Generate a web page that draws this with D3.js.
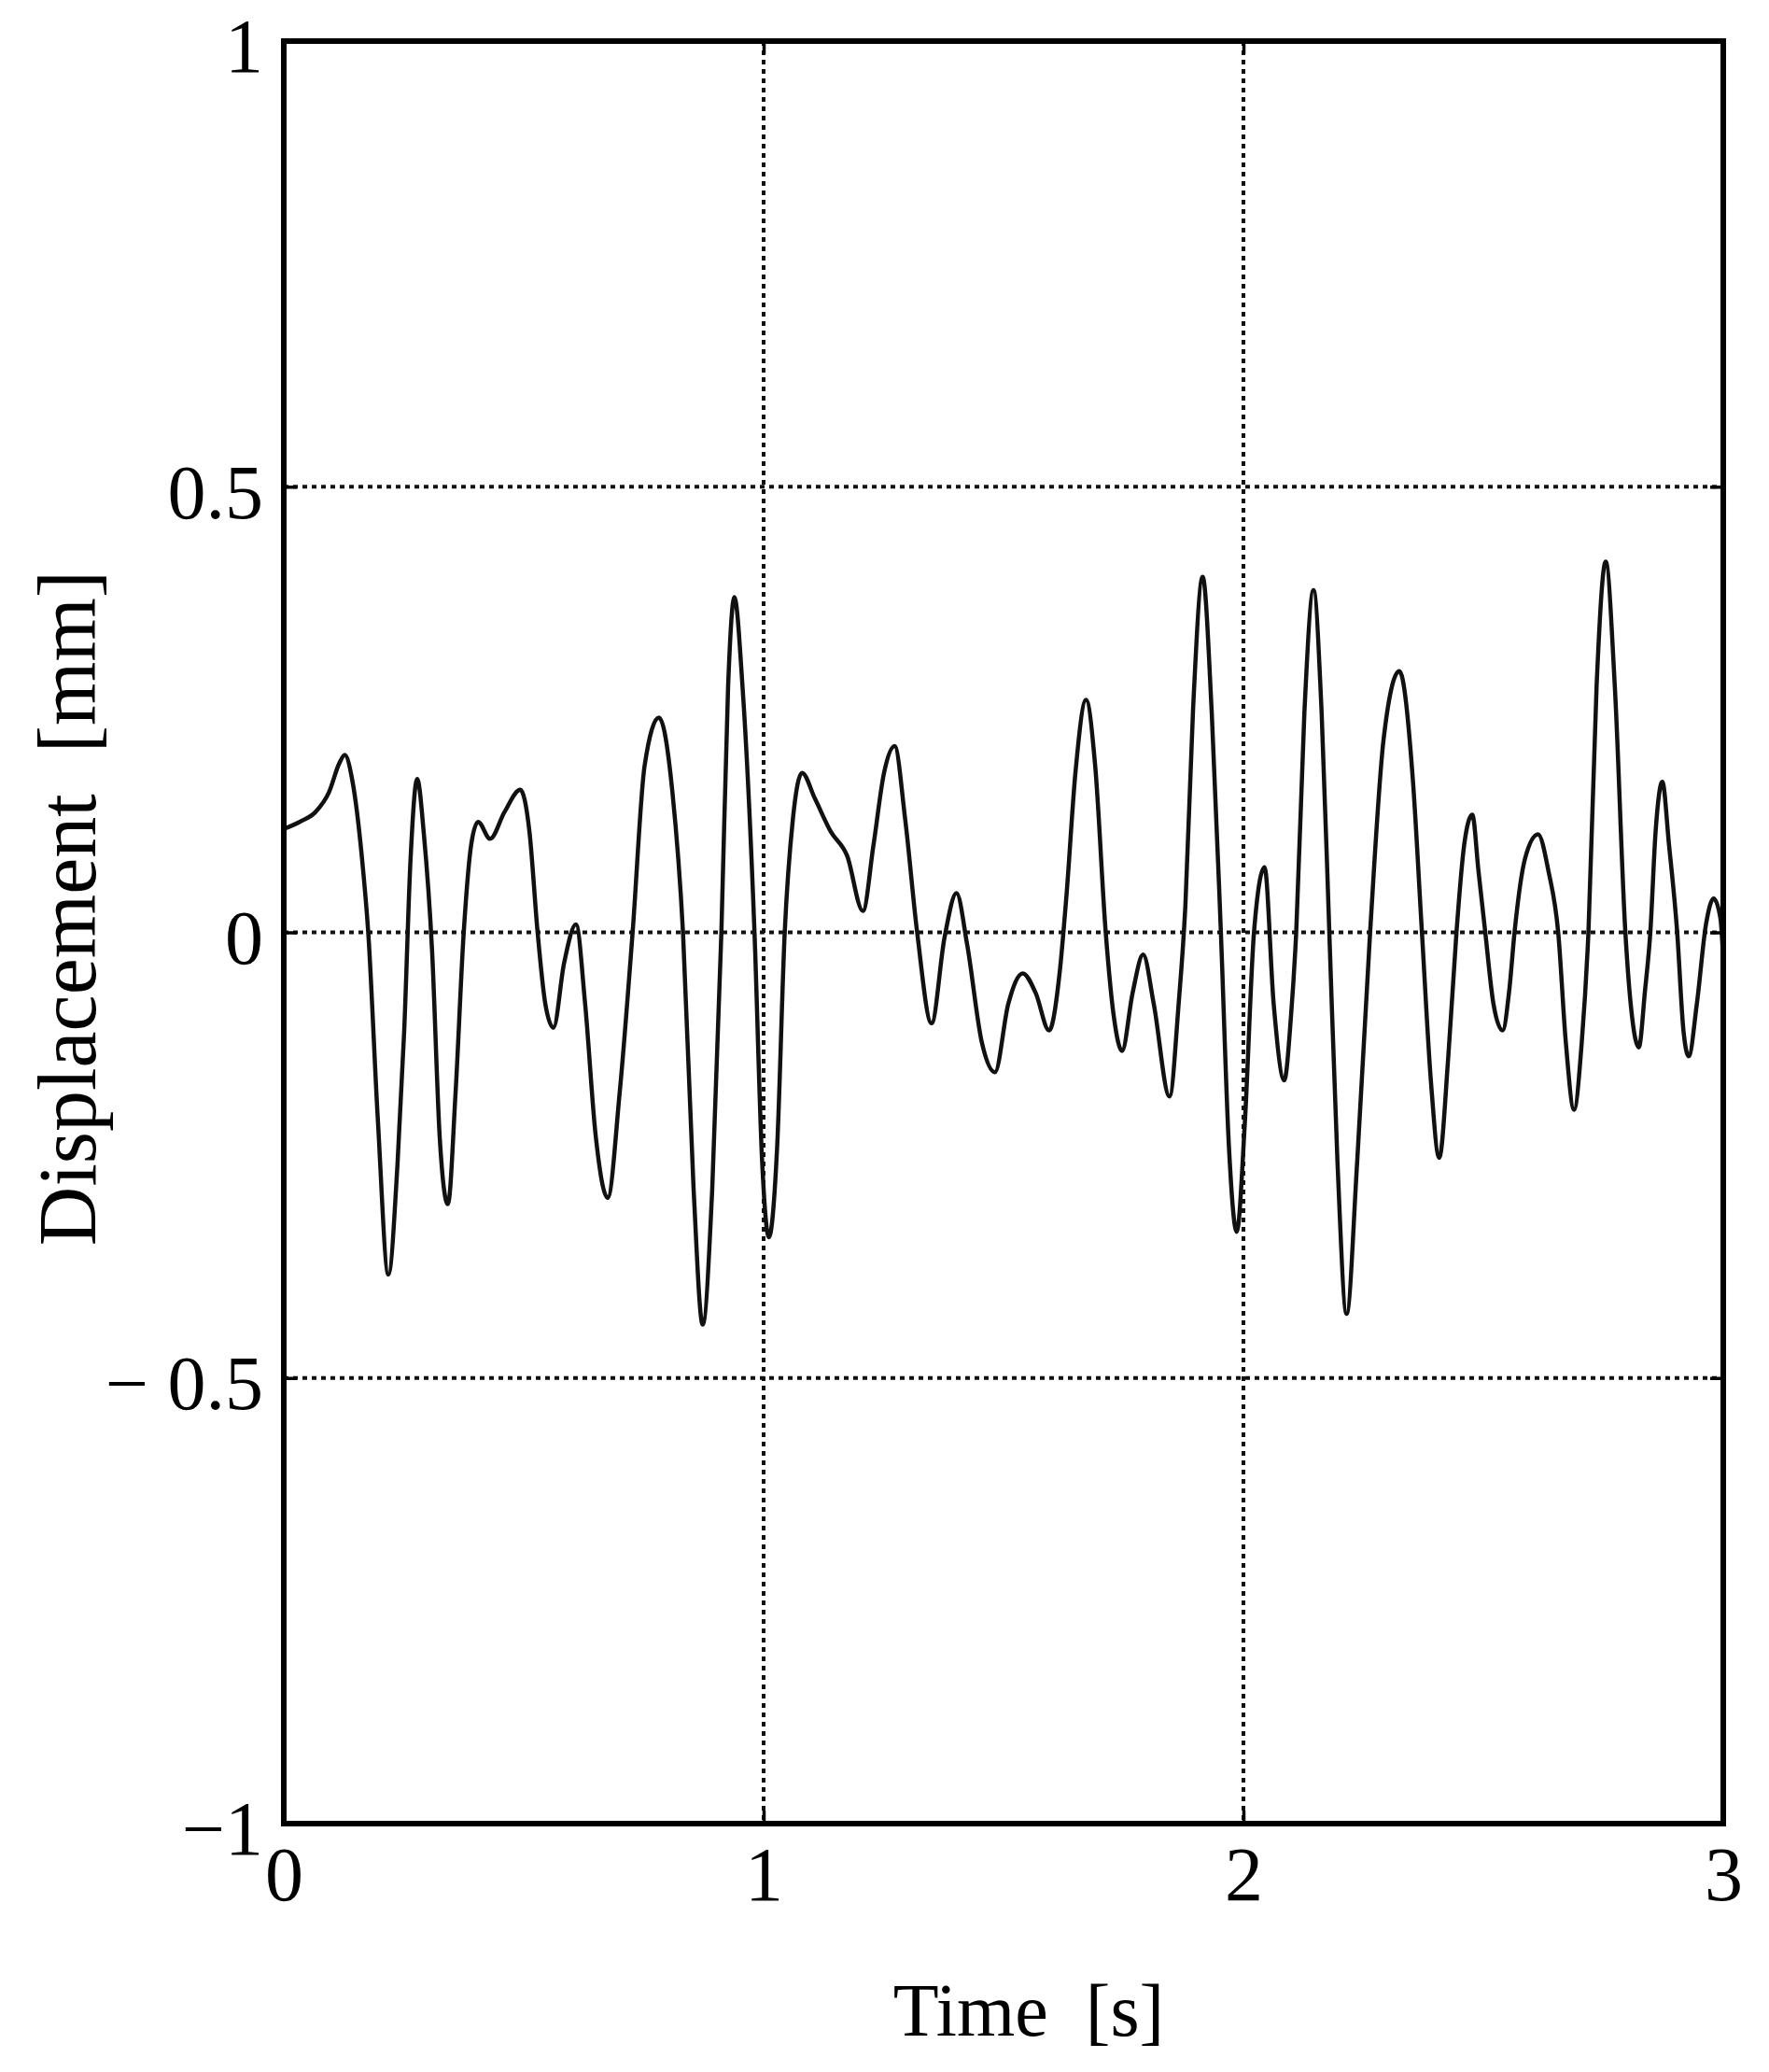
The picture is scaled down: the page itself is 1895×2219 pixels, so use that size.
<!DOCTYPE html>
<html>
<head>
<meta charset="utf-8">
<script src="https://cdn.jsdelivr.net/npm/d3@7"></script>
<style>
  html, body { margin: 0; padding: 0; background: #fff; }
  text { font-family: "Liberation Serif", "Times New Roman", serif; fill: #000; }
</style>
</head>
<body>
<div id="chart"></div>
<script>
// time [s] and displacement [mm]
const time = [
  0, 0.033, 0.066, 0.094, 0.116, 0.127, 0.143, 0.163, 0.176, 0.196, 0.218, 0.237, 0.251, 0.264,
  0.278, 0.292, 0.309, 0.325, 0.342, 0.358, 0.375, 0.391, 0.405, 0.43, 0.46, 0.493, 0.512, 0.529,
  0.545, 0.562, 0.584, 0.609, 0.628, 0.65, 0.675, 0.7, 0.727, 0.752, 0.782, 0.81, 0.832, 0.854,
  0.873, 0.893, 0.912, 0.926, 0.939, 0.956, 0.981, 0.997, 1.011, 1.028, 1.044, 1.061, 1.08, 1.107,
  1.14, 1.174, 1.207, 1.229, 1.251, 1.273, 1.295, 1.32, 1.35, 1.377, 1.402, 1.424, 1.455, 1.482,
  1.51, 1.54, 1.567, 1.595, 1.617, 1.631, 1.65, 1.672, 1.691, 1.713, 1.73, 1.747, 1.769, 1.791,
  1.813, 1.846, 1.865, 1.879, 1.895, 1.915, 1.934, 1.953, 1.97, 1.986, 2.003, 2.022, 2.044, 2.063,
  2.085, 2.099, 2.11, 2.127, 2.146, 2.163, 2.179, 2.196, 2.215, 2.237, 2.264, 2.292, 2.325, 2.353,
  2.372, 2.391, 2.408, 2.427, 2.444, 2.46, 2.477, 2.49, 2.504, 2.521, 2.54, 2.554, 2.565, 2.587,
  2.614, 2.636, 2.656, 2.672, 2.689, 2.705, 2.719, 2.736, 2.755, 2.774, 2.796, 2.81, 2.824, 2.837,
  2.848, 2.859, 2.873, 2.887, 2.904, 2.917, 2.928, 2.945, 2.964, 2.98, 2.994, 3.0
];
const displacement = [
  0.116, 0.124, 0.135, 0.157, 0.19, 0.199, 0.17, 0.083, 0, -0.21, -0.384, -0.26, -0.11, 0.08,
  0.172, 0.11, -0.02, -0.23, -0.305, -0.18, 0, 0.1, 0.124, 0.105, 0.135, 0.16, 0.113, 0,
  -0.08, -0.107, -0.035, 0.009, -0.08, -0.228, -0.298, -0.18, 0, 0.187, 0.241, 0.157, 0, -0.287,
  -0.44, -0.287, 0, 0.276, 0.376, 0.276, 0, -0.258, -0.342, -0.243, 0, 0.127, 0.179, 0.15,
  0.113, 0.086, 0.024, 0.098, 0.179, 0.209, 0.127, 0, -0.102, -0.006, 0.044, -0.013, -0.124, -0.157,
  -0.08, -0.046, -0.068, -0.11, -0.045, 0.04, 0.18, 0.261, 0.187, 0, -0.095, -0.133, -0.068, -0.025,
  -0.08, -0.184, -0.08, 0.03, 0.25, 0.399, 0.246, 0, -0.243, -0.336, -0.213, 0, 0.073, -0.08,
  -0.166, -0.095, 0, 0.246, 0.384, 0.246, 0, -0.258, -0.428, -0.258, 0, 0.216, 0.293, 0.172,
  0, -0.169, -0.253, -0.139, 0, 0.098, 0.132, 0.068, 0, -0.08, -0.11, -0.065, 0, 0.083,
  0.11, 0.068, 0, -0.124, -0.199, -0.124, 0, 0.276, 0.416, 0.276, 0, -0.095, -0.129, -0.065,
  0, 0.113, 0.169, 0.098, 0, -0.11, -0.139, -0.08, 0.009, 0.038, 0.016, -0.03
];
const xTicks = [0, 1, 2, 3];
const yTicks = [-1, -0.5, 0, 0.5, 1];
const yTickLabels = ["\u22121", "\u2212 0.5", "0", "0.5", "1"];

const width = 1895;
const height = 2219;
const marginTop = 44;
const marginRight = 49;
const marginBottom = 266;
const marginLeft = 304;

const x = d3.scaleLinear()
    .domain([0, 3])
    .range([marginLeft, width - marginRight]);
const y = d3.scaleLinear()
    .domain([-1, 1])
    .range([height - marginBottom, marginTop]);

const svg = d3.select("#chart")
  .append("svg")
    .attr("width", width)
    .attr("height", height);

svg.append("rect")
    .attr("width", width)
    .attr("height", height)
    .attr("fill", "#fff");

// dotted grid
svg.append("g")
  .selectAll("line")
  .data(xTicks.slice(1, -1))
  .join("line")
    .attr("x1", d => x(d)).attr("x2", d => x(d))
    .attr("y1", y(1)).attr("y2", y(-1))
    .attr("stroke", "#111")
    .attr("stroke-width", 4)
    .attr("stroke-dasharray", "5,5");

svg.append("g")
  .selectAll("line")
  .data(yTicks.slice(1, -1))
  .join("line")
    .attr("x1", x(0)).attr("x2", x(3))
    .attr("y1", d => y(d)).attr("y2", d => y(d))
    .attr("stroke", "#111")
    .attr("stroke-width", 4)
    .attr("stroke-dasharray", "5,5");

// signal
const line = d3.line()
    .x(d => x(d[0]))
    .y(d => y(d[1]))
    .curve(d3.curveMonotoneX);

svg.append("path")
    .datum(time.map((t, i) => [t, displacement[i]]))
    .attr("fill", "none")
    .attr("stroke", "#111")
    .attr("stroke-width", 4.5)
    .attr("stroke-linejoin", "round")
    .attr("d", line);

// axes, ticks pointing inwards
svg.append("g")
    .attr("transform", `translate(0,${y(-1)})`)
    .call(d3.axisBottom(x).tickValues(xTicks).tickSize(-14).tickPadding(24).tickFormat(d3.format("d")));
const yAxis = svg.append("g")
    .attr("transform", `translate(${x(0)},0)`)
    .call(d3.axisLeft(y).tickValues(yTicks).tickSize(-14).tickPadding(22)
      .tickFormat((d, i) => yTickLabels[i]));
svg.append("g")
    .attr("transform", `translate(0,${y(1)})`)
    .call(d3.axisTop(x).tickValues(xTicks).tickSize(-14).tickFormat(""));
svg.append("g")
    .attr("transform", `translate(${x(3)},0)`)
    .call(d3.axisRight(y).tickValues(yTicks).tickSize(-14).tickFormat(""));

svg.selectAll(".domain").remove();
svg.selectAll(".tick line").attr("stroke", "#000").attr("stroke-width", 3.5);
svg.selectAll(".tick text")
    .attr("font-family", "Liberation Serif, Times New Roman, serif")
    .attr("font-size", 82)
    .attr("fill", "#000");
yAxis.selectAll(".tick text").attr("dy", "0.4em");

// frame
svg.append("rect")
    .attr("x", x(0))
    .attr("y", y(1))
    .attr("width", x(3) - x(0))
    .attr("height", y(-1) - y(1))
    .attr("fill", "none")
    .attr("stroke", "#000")
    .attr("stroke-width", 6);

// axis titles
svg.append("text")
    .attr("x", 1102)
    .attr("y", 2180)
    .attr("text-anchor", "middle")
    .attr("font-size", 80)
    .text("Time\u00a0\u00a0[s]");

svg.append("text")
    .attr("transform", `translate(102,${(y(1) + y(-1)) / 2 - 26}) rotate(-90)`)
    .attr("text-anchor", "middle")
    .attr("font-size", 88)
    .text("Displacement\u00a0\u00a0[mm]");
</script>
</body>
</html>
